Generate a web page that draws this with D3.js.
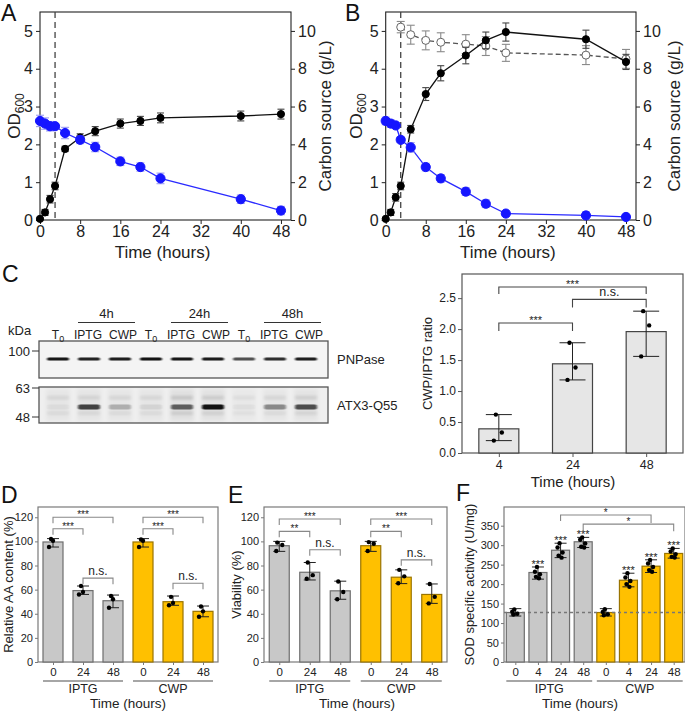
<!DOCTYPE html>
<html><head><meta charset="utf-8">
<script src="https://cdn.jsdelivr.net/npm/d3@7"></script>
<style>body{margin:0;background:#fff}svg{display:block;font-family:"Liberation Sans",Arial,sans-serif}</style>
</head><body><svg id="c" width="685" height="712"></svg>
<script>
// ---------------- DATA ----------------
// Panels A & B: growth curves
const timesGrowth = [0,1,2,3,5,8,11,16,20,24,40,48];
const xTicksGrowth = [0,8,16,24,32,40,48];
const odTicks = [0,1,2,3,4,5];
const carbonTicks = [0,2,4,6,8,10];
const inductionTime = 3;

const odA      = [0.03,0.2,0.55,0.9,1.88,2.18,2.35,2.55,2.62,2.7,2.75,2.8];
const odAErr   = [0.02,0.08,0.1,0.1,0.07,0.1,0.12,0.12,0.12,0.13,0.13,0.13];
const carbonA    = [5.24,5.1,4.96,4.96,4.6,4.24,3.86,3.1,2.8,2.2,1.1,0.5];
const carbonAErr = [0.3,0.3,0.25,0.15,0.3,0.2,0.25,0.22,0.22,0.28,0.22,0.22];

const odB      = [0.03,0.2,0.6,0.9,2.4,3.33,3.88,4.35,4.75,4.97,4.78,4.18];
const odBErr   = [0.02,0.08,0.1,0.1,0.1,0.17,0.2,0.22,0.22,0.24,0.24,0.2];
const carbonB    = [5.24,5.1,5.0,4.24,3.84,2.8,2.2,1.5,0.86,0.34,0.24,0.16];
const carbonBErr = [0.2,0.2,0.15,0.15,0.25,0.2,0.2,0.2,0.2,0.15,0.2,0.15];
const timesCwp   = [3,5,8,11,16,20,24,40,48];
const cwpB       = [10.2,9.8,9.5,9.4,9.3,9.2,8.84,8.72,8.52];
const cwpBErr    = [0.3,0.5,0.5,0.5,0.5,0.5,0.45,0.5,0.5];

// Panel C: western blot
const gelGroups = ["4h","24h","48h"];
const gelLanes = ["T0","IPTG","CWP","T0","IPTG","CWP","T0","IPTG","CWP"];
const gelMarkers = [100,63,48];
const pnpaseIntensity = [0.95,0.9,0.92,0.97,0.95,0.93,0.7,0.85,0.92];
const atx3Intensity   = [0.04,0.75,0.25,0.08,0.62,0.98,0.04,0.42,0.7];
const bgIntensity     = [0.07,0.08,0.07,0.07,0.12,0.1,0.05,0.07,0.09];
// Panel C: ratio
const ratioTimes = ["4","24","48"];
const ratioMean = [0.39,1.44,1.96];
const ratioLo   = [0.2,1.18,1.56];
const ratioHi   = [0.62,1.78,2.29];
const ratioPts  = [[0.62,0.33,0.2],[1.78,1.38,1.18],[2.29,2.06,1.56]];
const ratioTicks = [0,0.5,1,1.5,2,2.5];

// Panels D, E
const treatments = ["IPTG","CWP"];
const timesDE = ["0","24","48"];
const aaMean = [99.5,59.2,50.8,99.5,50,42];
const aaLo   = [95.3,56,45,95.3,47,37.5];
const aaHi   = [102.3,63,55.5,102.3,54.7,46.4];
const aaPts  = [[102,100.5,95.3],[63,58,56],[54.7,52,45],[101.5,100.5,95.3],[54,49,47],[46,42,37.5]];

const viaMean = [96.4,74.4,59,96.4,70.3,56];
const viaLo   = [91.7,68,52,91.7,65,48.6];
const viaHi   = [100,82.5,67,100,76.4,64.7];
const viaPts  = [[99,97,92],[82.5,72,69],[66.7,58,52],[99.4,98,92],[76.4,71,65.3],[64.7,54,48.6]];
const pctTicks = [0,20,40,60,80,100,120];

// Panel F
const timesF = ["0","4","24","48"];
const sodMean = [127,229.8,287,308.7,127,210,246,278.7];
const sodLo   = [118,212.7,268,294,118,193,229.8,266.7];
const sodHi   = [137,244,305,320,137,228,262.4,291.6];
const sodPts  = [[135,129,124,122],[244,231.6,225.5,218.7,215],[305,294,281,272.7,268],[320,314,304.5,296,294],
                 [135.5,128.6,122.6,120],[228,217,208,200,193],[262,253,244,236,231.6],[291.6,283.9,277,270,268.4]];
const sodStars = ["","***","***","***","","***","***","***"];
const sodBaseline = 127;
const sodTicks = [0,50,100,150,200,250,300,350];

// ---------------- DRAW ----------------
const svg = d3.select("#c");
svg.append("rect").attr("width",685).attr("height",712).attr("fill","#fff");
const FONT = "'Liberation Sans', Arial, sans-serif";

function letter(t,x,y){svg.append("text").attr("x",x).attr("y",y).attr("font-size",23).attr("fill","#111").text(t);}

function styleAxis(ax, fs, col, tcol){
  ax.select(".domain").remove();
  ax.selectAll(".tick line").attr("stroke",col).attr("stroke-width",1);
  ax.selectAll(".tick text").attr("font-size",fs).attr("fill",tcol||"#222").attr("font-family",FONT);
}

function rotTitle(g, x, y, txt, fs){
  return g.append("text").attr("transform",`translate(${x},${y}) rotate(-90)`).attr("text-anchor","middle")
   .attr("font-size",fs).attr("fill","#222").text(txt);
}

function series(g, x, y, t, v, e, st){
  const data = t.map((tt,i)=>({t:tt,v:v[i],e:e[i]}));
  g.append("path").datum(data).attr("d",d3.line().x(d=>x(d.t)).y(d=>y(d.v)))
    .attr("fill","none").attr("stroke",st.line).attr("stroke-width",1.3).attr("stroke-dasharray",st.dash||null);
  const eb = g.append("g").attr("stroke",st.err).attr("stroke-width",1.1);
  data.forEach(d=>{
    const xx=x(d.t), y1=y(d.v-d.e), y2=y(d.v+d.e);
    eb.append("line").attr("x1",xx).attr("x2",xx).attr("y1",y1).attr("y2",y2);
    eb.append("line").attr("x1",xx-st.cap).attr("x2",xx+st.cap).attr("y1",y1).attr("y2",y1);
    eb.append("line").attr("x1",xx-st.cap).attr("x2",xx+st.cap).attr("y1",y2).attr("y2",y2);
  });
  g.selectAll(null).data(data).join("circle").attr("cx",d=>x(d.t)).attr("cy",d=>y(d.v)).attr("r",st.r)
    .attr("fill",st.fill).attr("stroke",st.stroke||st.fill).attr("stroke-width",1);
}

function growth(o){
  const g = svg.append("g");
  const x = d3.scaleLinear().domain([0,50]).range([o.L,o.R]);
  const yL = d3.scaleLinear().domain([0,5.5]).range([o.B,o.T]);
  const yR = d3.scaleLinear().domain([0,11]).range([o.B,o.T]);
  const fmt = d3.format("d");
  g.append("g").attr("transform",`translate(0,${o.B})`).call(d3.axisBottom(x).tickValues(xTicksGrowth).tickFormat(fmt).tickSize(4).tickPadding(2)).call(a=>styleAxis(a,16,"#222"));
  g.append("g").attr("transform",`translate(${o.L},0)`).call(d3.axisLeft(yL).tickValues(odTicks).tickFormat(fmt).tickSize(4).tickPadding(3)).call(a=>styleAxis(a,16,"#222"));
  g.append("g").attr("transform",`translate(${o.R},0)`).call(d3.axisRight(yR).tickValues(carbonTicks).tickFormat(fmt).tickSize(4).tickPadding(3)).call(a=>styleAxis(a,16,"#222"));
  g.append("rect").attr("x",o.L).attr("y",o.T).attr("width",o.R-o.L).attr("height",o.B-o.T).attr("fill","none").attr("stroke","#222").attr("stroke-width",1.1);
  g.append("line").attr("x1",x(inductionTime)).attr("x2",x(inductionTime)).attr("y1",o.T).attr("y2",o.B)
    .attr("stroke","#444").attr("stroke-width",1.3).attr("stroke-dasharray","6,4");
  if(o.cwp) series(g,x,yR,timesCwp,o.cwp,o.cwpErr,{line:"#555",dash:"5,3",err:"#8a8a8a",cap:4,r:4,fill:"#fff",stroke:"#666"});
  series(g,x,yL,timesGrowth,o.od,o.odErr,{line:"#111",err:"#444",cap:3.5,r:3.6,fill:"#000"});
  series(g,x,yR,timesGrowth,o.carbon,o.carbonErr,{line:"#2a2aff",err:"#9c9cf0",cap:4,r:4.6,fill:"#1515ff"});
  const ot = g.append("text").attr("transform",`translate(${o.odX},${(o.T+o.B)/2}) rotate(-90)`).attr("text-anchor","middle").attr("font-size",17).attr("fill","#222");
  ot.append("tspan").text("OD");
  ot.append("tspan").attr("font-size",12).attr("dy",4).text("600");
  rotTitle(g,o.cX,(o.T+o.B)/2,"Carbon source (g/L)",17);
  g.append("text").attr("x",(o.L+o.R)/2-3).attr("y",258).attr("text-anchor","middle").attr("font-size",17).attr("fill","#222").text("Time (hours)");
}

growth({L:40,R:291,T:12,B:220,od:odA,odErr:odAErr,carbon:carbonA,carbonErr:carbonAErr,odX:20,cX:331});
growth({L:385.7,R:636,T:12,B:220,od:odB,odErr:odBErr,carbon:carbonB,carbonErr:carbonBErr,cwp:cwpB,cwpErr:cwpBErr,odX:362,cX:680});
letter("A",1,21); letter("B",345,21);

// ---------- Panel C gel ----------
(function(){
  const g = svg.append("g");
  const lx = d3.scalePoint().domain(d3.range(gelLanes.length)).range([58,306]);
  const labelShift = {T0:0, IPTG:-1, CWP:3};
  const kda = d3.scaleLinear().domain([48,63,100]).range([417,388,351]);
  const defs = svg.append("defs");
  defs.append("filter").attr("id","blur").attr("x","-20%").attr("y","-100%").attr("width","140%").attr("height","300%")
    .append("feGaussianBlur").attr("stdDeviation","0.9 0.7");
  defs.append("filter").attr("id","blur3").attr("x","-30%").attr("y","-200%").attr("width","160%").attr("height","500%")
    .append("feGaussianBlur").attr("stdDeviation","1.6 1.3");
  defs.append("filter").attr("id","blur2").append("feGaussianBlur").attr("stdDeviation","2");
  const boxL=39, boxR=328;
  const boxes=[[341,378,"#f4f4f4"],[387,423,"#efefef"]];
  boxes.forEach(b=>g.append("rect").attr("x",boxL).attr("y",b[0]).attr("width",boxR-boxL).attr("height",b[1]-b[0]).attr("fill",b[2]));
  gelLanes.forEach((l,i)=>{
    g.append("rect").attr("x",lx(i)-12).attr("y",389).attr("width",24).attr("height",32).attr("fill","#000").attr("opacity",bgIntensity[i]*0.5).attr("filter","url(#blur2)");
    [58,50].forEach((k,j)=>g.append("rect").attr("x",lx(i)-11).attr("y",kda(k)-2).attr("width",22).attr("height",4)
        .attr("fill","#000").attr("opacity",bgIntensity[i]*(j===0?0.9:0.7)).attr("filter","url(#blur3)"));
    g.append("rect").attr("x",lx(i)-11).attr("y",kda(92)-1.6).attr("width",22).attr("height",3.2).attr("rx",1.5)
      .attr("fill","#0a0a0a").attr("opacity",pnpaseIntensity[i]).attr("filter","url(#blur)");
    g.append("rect").attr("x",lx(i)-11).attr("y",kda(53.2)-2.5).attr("width",22).attr("height",5).attr("rx",2)
      .attr("fill","#0a0a0a").attr("opacity",atx3Intensity[i]).attr("filter","url(#blur)");
  });
  boxes.forEach(b=>g.append("rect").attr("x",boxL).attr("y",b[0]).attr("width",boxR-boxL).attr("height",b[1]-b[0]).attr("fill","none").attr("stroke","#555").attr("stroke-width",1.3));
  gelMarkers.forEach(m=>{
    g.append("line").attr("x1",32).attr("x2",boxL).attr("y1",kda(m)).attr("y2",kda(m)).attr("stroke","#333").attr("stroke-width",1);
    g.append("text").attr("x",30).attr("y",kda(m)+4.5).attr("text-anchor","end").attr("font-size",13).attr("fill","#222").text(m);
  });
  g.append("text").attr("x",8).attr("y",335).attr("font-size",13).attr("fill","#222").text("kDa");
  gelLanes.forEach((l,i)=>{
    const t = g.append("text").attr("x",lx(i)+labelShift[l]).attr("y",339).attr("text-anchor","middle").attr("font-size",12).attr("fill","#222");
    if(l==="T0"){t.append("tspan").text("T");t.append("tspan").attr("font-size",9).attr("dy",3).text("0");}
    else t.text(l);
  });
  gelGroups.forEach((gr,k)=>{
    const a=lx(3*k+1), b=lx(3*k+2);
    g.append("line").attr("x1",a-11).attr("x2",b+15).attr("y1",322.5).attr("y2",322.5).attr("stroke","#333").attr("stroke-width",1.1);
    g.append("text").attr("x",(a+b)/2+2).attr("y",318).attr("text-anchor","middle").attr("font-size",13).attr("fill","#222").text(gr);
  });
  g.append("text").attr("x",337).attr("y",364).attr("font-size",13).attr("fill","#222").text("PNPase");
  g.append("text").attr("x",337).attr("y",410).attr("font-size",13).attr("fill","#222").text("ATX3-Q55");
})();
letter("C",2,282);

// ---------- generic bar panel ----------
function barPanel(o){
  const g = svg.append("g");
  const y = d3.scaleLinear().domain(o.yDomain).range([o.B,o.T]);
  const x = d3.scalePoint().domain(d3.range(o.mean.length)).range([o.L,o.R]).padding(0.5);
  g.append("rect").attr("x",o.L).attr("y",o.T).attr("width",o.R-o.L).attr("height",o.B-o.T).attr("fill","none").attr("stroke",o.frame).attr("stroke-width",1.2);
  g.selectAll(null).data(o.mean).join("rect").attr("x",(d,i)=>x(i)-o.bw/2).attr("y",d=>y(d)).attr("width",o.bw)
    .attr("height",d=>o.B-y(d)).attr("fill",(d,i)=>o.fill[i]).attr("stroke",(d,i)=>o.stroke[i]).attr("stroke-width",1.2);
  if(o.baseline!=null){
    g.append("line").attr("x1",o.L).attr("x2",o.R).attr("y1",y(o.baseline)).attr("y2",y(o.baseline))
      .attr("stroke","#777").attr("stroke-width",1.4).attr("stroke-dasharray","3,3");
  }
  const eb = g.append("g").attr("stroke","#222").attr("stroke-width",1);
  o.mean.forEach((m,i)=>{
    const xx=x(i);
    eb.append("line").attr("x1",xx).attr("x2",xx).attr("y1",y(o.lo[i])).attr("y2",y(o.hi[i]));
    [o.lo[i],o.hi[i]].forEach(v=>eb.append("line").attr("x1",xx-o.cap).attr("x2",xx+o.cap).attr("y1",y(v)).attr("y2",y(v)));
  });
  o.pts.forEach((arr,i)=>{
    arr.forEach((v,j)=>g.append("circle").attr("cx",x(i)+o.jit[j%o.jit.length]).attr("cy",y(v)).attr("r",o.pr).attr("fill","#000"));
  });
  if(o.stars) o.stars.forEach((s,i)=>{ if(s) g.append("text").attr("x",x(i)).attr("y",y(o.hi[i])+1).attr("text-anchor","middle").attr("font-size",11).attr("fill","#222").text(s); });
  (o.brackets||[]).forEach(b=>{
    const yy=y(b.level), a=x(b.a), c=x(b.b);
    g.append("path").attr("d",`M${a},${yy+b.legA}V${yy}H${c}V${yy+b.legB}`).attr("fill","none").attr("stroke",o.bracketCol).attr("stroke-width",1.1);
    g.append("text").attr("x",(a+c)/2).attr("y",b.label==="n.s."?yy-3:yy+1).attr("text-anchor","middle")
      .attr("font-size",b.label==="n.s."?o.nsFs:o.starFs).attr("fill","#222").text(b.label);
  });
  g.append("g").attr("transform",`translate(${o.L},0)`).call(d3.axisLeft(y).tickValues(o.yTicks).tickSize(o.tick).tickPadding(2).tickFormat(o.fmt||d3.format("d")))
    .call(a=>styleAxis(a,o.tickFs,o.frame));
  g.append("g").attr("transform",`translate(0,${o.B})`).call(d3.axisBottom(x).tickSize(o.tick).tickPadding(o.xPad).tickFormat(i=>o.xLabels[i]))
    .call(a=>styleAxis(a,o.xTickFs,o.frame));
  rotTitle(g,o.yTitleX,(o.T+o.B)/2,o.yTitle,o.yTitleFs);
  if(o.groups){
    o.groups.forEach((gr,k)=>{
      const idx = o.mean.map((m,i)=>i).filter(i=>o.groupOf[i]===k);
      const a=x(idx[0])-o.bw/2, c=x(idx[idx.length-1])+o.bw/2;
      g.append("line").attr("x1",a).attr("x2",c).attr("y1",681).attr("y2",681).attr("stroke","#888").attr("stroke-width",1.5);
      g.append("text").attr("x",(a+c)/2).attr("y",693).attr("text-anchor","middle").attr("font-size",12.5).attr("fill","#222").text(gr);
    });
  }
  g.append("text").attr("x",o.titleX).attr("y",o.titleY).attr("text-anchor","middle").attr("font-size",o.titleFs).attr("fill","#222").text("Time (hours)");
}

barPanel({L:462,R:683,T:274,B:453,yDomain:[0,2.89],yTicks:ratioTicks,fmt:d3.format(".1f"),
  mean:ratioMean,lo:ratioLo,hi:ratioHi,pts:ratioPts,jit:[-3,3,-5],pr:2.2,cap:13,bw:40,
  fill:ratioMean.map(()=>"#e6e6e6"),stroke:ratioMean.map(()=>"#444"),frame:"#555",bracketCol:"#444",
  xLabels:ratioTimes,tick:4,xPad:3,tickFs:12,xTickFs:12.5,
  brackets:[{a:0,b:2,level:2.68,label:"***",legA:7,legB:7},{a:1,b:2,level:2.48,label:"n.s.",legA:8,legB:8},{a:0,b:1,level:2.1,label:"***",legA:8,legB:8}],
  starFs:11,nsFs:12.5,yTitle:"CWP/IPTG ratio",yTitleX:432,yTitleFs:13,titleX:573,titleY:487,titleFs:15});

const grey="#c8c8c8", gold="#ffc000", greyS="#6e6e6e", goldS="#9a7400";
const deFill=[grey,grey,grey,gold,gold,gold], deStroke=[greyS,greyS,greyS,goldS,goldS,goldS];
const deGroupOf=[0,0,0,1,1,1];
const deLabels=timesDE.concat(timesDE);
const common={T:507,B:662,tick:3,xPad:3,tickFs:11,xTickFs:11.5,frame:"#7a7a7a",bracketCol:"#888",starFs:10,nsFs:12,
  pr:2.2,cap:6,bw:20,groups:treatments,yTitleFs:13,titleY:708,titleFs:13.5,fmt:d3.format("d")};

barPanel(Object.assign({},common,{L:38,R:218,yDomain:[0,128.5],yTicks:pctTicks,mean:aaMean,lo:aaLo,hi:aaHi,pts:aaPts,jit:[-2,0,-4],
  fill:deFill,stroke:deStroke,groupOf:deGroupOf,xLabels:deLabels,
  brackets:[{a:0,b:2,level:120,label:"***",legA:6,legB:6},{a:0,b:1,level:110.5,label:"***",legA:6,legB:6},{a:1,b:2,level:69.5,label:"n.s.",legA:6,legB:6},
            {a:3,b:5,level:120,label:"***",legA:6,legB:6},{a:3,b:4,level:110.5,label:"***",legA:6,legB:6},{a:4,b:5,level:65.3,label:"n.s.",legA:6,legB:6}],
  yTitle:"Relative AA content (%)",yTitleX:13,titleX:128}));

barPanel(Object.assign({},common,{L:264,R:447,yDomain:[0,128.5],yTicks:pctTicks,mean:viaMean,lo:viaLo,hi:viaHi,pts:viaPts,jit:[-2,3,-3],
  fill:deFill,stroke:deStroke,groupOf:deGroupOf,xLabels:deLabels,
  brackets:[{a:0,b:2,level:118.6,label:"***",legA:6,legB:6},{a:0,b:1,level:108.3,label:"**",legA:6,legB:6},{a:1,b:2,level:93,label:"n.s.",legA:6,legB:6},
            {a:3,b:5,level:118.6,label:"***",legA:6,legB:6},{a:3,b:4,level:108.3,label:"**",legA:6,legB:6},{a:4,b:5,level:84.7,label:"n.s.",legA:6,legB:6}],
  yTitle:"Viability (%)",yTitleX:241,titleX:357}));

barPanel(Object.assign({},common,{L:504,R:685,yDomain:[0,398],yTicks:sodTicks,mean:sodMean,lo:sodLo,hi:sodHi,pts:sodPts,jit:[-1,-3,2,-2,1],
  fill:[grey,grey,grey,grey,gold,gold,gold,gold],stroke:[greyS,greyS,greyS,greyS,goldS,goldS,goldS,goldS],
  groupOf:[0,0,0,0,1,1,1,1],xLabels:timesF.concat(timesF),bw:18,cap:6,baseline:sodBaseline,stars:sodStars,
  brackets:[{a:2,b:6,level:377.5,label:"*",legA:6,legB:8},{a:3,b:7,level:354,label:"*",legA:7,legB:7}],
  yTitle:"SOD specific activity (U/mg)",yTitleX:474,titleX:580}));

letter("D",1,503); letter("E",228,503); letter("F",456,501);
</script></body></html>
